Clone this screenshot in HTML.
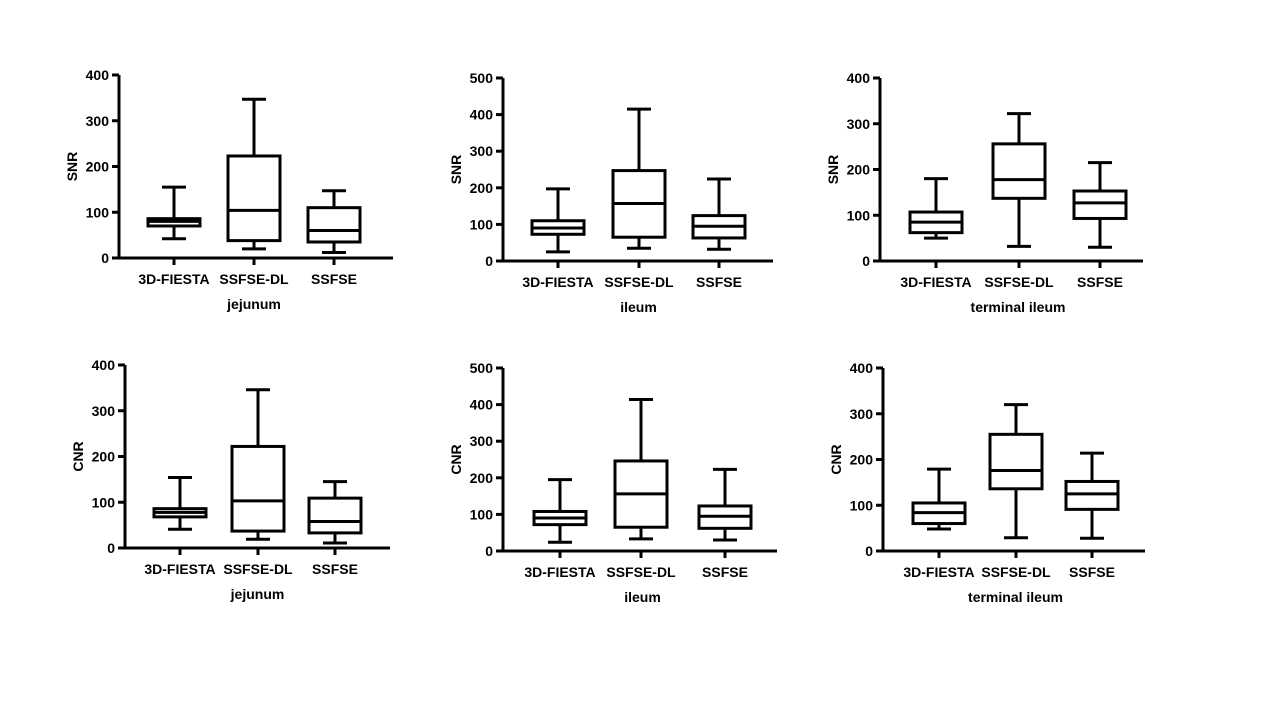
<!DOCTYPE html>
<html><head><meta charset="utf-8"><style>
html,body{margin:0;padding:0;background:#fff;}
svg{display:block;font-family:"Liberation Sans",Arial,sans-serif;font-weight:bold;}
</style></head><body>
<svg id="chart" width="1280" height="720" viewBox="0 0 1280 720" xmlns="http://www.w3.org/2000/svg"></svg>
<script>
const categories = ["3D-FIESTA","SSFSE-DL","SSFSE"];
const panelTitles = ["jejunum","ileum","terminal ileum","jejunum","ileum","terminal ileum"];
const panelMetrics = ["SNR","SNR","SNR","CNR","CNR","CNR"];
const panelMax = [400,500,400,400,500,400];
const jejunumSNR = [[42,70,80,86,155],[20,38,104,223,347],[12,35,60,110,147]];
const ileumSNR = [[25,73,90,110,197],[35,65,157,247,415],[32,63,95,124,224]];
const terminalSNR = [[50,62,85,107,180],[32,137,178,256,322],[30,93,127,153,215]];
const jejunumCNR = [[41,68,78,86,154],[19,37,103,222,346],[11,33,58,109,145]];
const ileumCNR = [[24,72,90,108,195],[33,65,156,246,414],[30,62,95,123,223]];
const terminalCNR = [[48,60,84,105,179],[29,136,176,255,320],[28,91,125,152,214]];
const panelData = [jejunumSNR,ileumSNR,terminalSNR,jejunumCNR,ileumCNR,terminalCNR];

const layouts = [
 {ax:119,top:75,bot:258,end:393,cx:[174,254,334]},
 {ax:503,top:78,bot:261,end:773,cx:[558,639,719]},
 {ax:880,top:78,bot:261,end:1143,cx:[936,1019,1100]},
 {ax:125,top:365,bot:548,end:390,cx:[180,258,335]},
 {ax:503,top:368,bot:551,end:777,cx:[560,641,725]},
 {ax:883,top:368,bot:551,end:1145,cx:[939,1016,1092]}
];
const NS="http://www.w3.org/2000/svg";
const svg=document.getElementById('chart');
function mk(tag,attrs,parent){const e=document.createElementNS(NS,tag);for(const k in attrs)e.setAttribute(k,attrs[k]);parent.appendChild(e);return e;}
panelData.forEach((data,p)=>{
  const L=layouts[p];const max=panelMax[p];
  const y=v=>L.bot-(v/max)*(L.bot-L.top);
  const g=mk('g',{},svg);
  
  
  const sw=3;
  // y axis
  const ya=mk('line',{x1:L.ax,y1:L.top,x2:L.ax,y2:L.bot+1.5,stroke:'#000','stroke-width':sw},g);
  
  
  const xa=mk('line',{x1:L.ax-1.5,y1:L.bot,x2:L.end,y2:L.bot,stroke:'#000','stroke-width':sw},g);
  
  
  for(let t=0;t<=max;t+=100){
    mk('line',{x1:L.ax-7,y1:y(t),x2:L.ax,y2:y(t),stroke:'#000','stroke-width':sw},g);
    const tx=mk('text',{x:L.ax-10,y:y(t)+5,'text-anchor':'end','font-size':14},g);
    tx.textContent=t;
    
    
  }
  const yt=mk('text',{x:0,y:0,'text-anchor':'middle','font-size':14,transform:`translate(${L.ax-42},${(L.top+L.bot)/2}) rotate(-90)`},g);
  yt.textContent=panelMetrics[p];
  
  
  const xt=mk('text',{x:(L.cx[0]+L.cx[2])/2,y:L.bot+51,'text-anchor':'middle','font-size':14},g);
  xt.textContent=panelTitles[p];
  
  
  data.forEach((d,i)=>{
    const cx=L.cx[i];const hw=26;
    mk('line',{x1:cx,y1:L.bot,x2:cx,y2:L.bot+7,stroke:'#000','stroke-width':sw},g);
    const cl=mk('text',{x:cx,y:L.bot+26,'text-anchor':'middle','font-size':14},g);
    cl.textContent=categories[i];
    
    
    const bg=mk('g',{fill:'none',stroke:'#000','stroke-width':sw},g);
    
    
    mk('line',{x1:cx,y1:y(d[0]),x2:cx,y2:y(d[1])},bg);
    mk('line',{x1:cx,y1:y(d[3]),x2:cx,y2:y(d[4])},bg);
    mk('line',{x1:cx-12,y1:y(d[0]),x2:cx+12,y2:y(d[0])},bg);
    mk('line',{x1:cx-12,y1:y(d[4]),x2:cx+12,y2:y(d[4])},bg);
    mk('rect',{x:cx-hw,y:y(d[3]),width:hw*2,height:y(d[1])-y(d[3])},bg);
    mk('line',{x1:cx-hw,y1:y(d[2]),x2:cx+hw,y2:y(d[2])},bg);
  });
});
</script>
</body></html>
